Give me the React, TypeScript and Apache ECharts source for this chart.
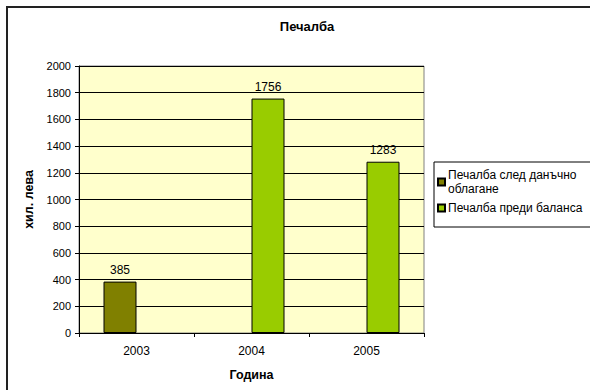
import React, { useEffect, useRef } from "react";
import * as echarts from "echarts";

const categories = ["2003", "2004", "2005"];
const seriesNames = ["Печалба след данъчно облагане", "Печалба преди баланса"];
const afterTax = [385, null, null];
const beforeBalance = [null, 1756, 1283];
const yTicks = { min: 0, max: 2000, interval: 200 };

const FONT = "'Liberation Sans', Arial, sans-serif";

export default function App() {
  const ref = useRef<HTMLDivElement>(null);
  useEffect(() => {
    if (!ref.current) return;
    const chart = echarts.init(ref.current, undefined, { renderer: "svg" });
    chart.setOption({
      animation: false,
      backgroundColor: "#ffffff",
      textStyle: { fontFamily: FONT },
      title: {
        text: "Печалба",
        left: 302,
        top: 15,
        textAlign: "center",
        textStyle: { fontSize: 13, fontWeight: "bold", color: "#000", fontFamily: FONT },
      },
      grid: {
        left: 79,
        top: 66,
        right: 166,
        bottom: 57,
        show: true,
        backgroundColor: "#FFFFCC",
        borderColor: "#808080",
        borderWidth: 1,
      },
      legend: {
        orient: "vertical",
        left: 434,
        top: 162,
        padding: [6, 40, 12, 3],
        itemWidth: 7,
        itemHeight: 7,
        itemGap: 5,
        backgroundColor: "#ffffff",
        borderColor: "#000",
        borderWidth: 1,
        icon: "rect",
        formatter: (name: string) =>
          name === seriesNames[0] ? "Печалба след данъчно\nоблагане" : name,
        textStyle: { fontSize: 12, color: "#000", fontFamily: FONT, lineHeight: 14, padding: [0, 0, 0, -2] },
        data: seriesNames,
      },
      xAxis: {
        type: "category",
        data: categories,
        name: "Година",
        nameLocation: "middle",
        nameGap: 35,
        nameTextStyle: { fontSize: 12.5, fontWeight: "bold", color: "#000", fontFamily: FONT },
        axisLine: { lineStyle: { color: "#000", width: 1 } },
        axisTick: { show: true, length: 4, lineStyle: { color: "#000" } },
        axisLabel: { fontSize: 12, color: "#000", margin: 12, fontFamily: FONT },
      },
      yAxis: {
        type: "value",
        min: yTicks.min,
        max: yTicks.max,
        interval: yTicks.interval,
        name: "хил. лева",
        nameLocation: "middle",
        nameGap: 44,
        nameTextStyle: { fontSize: 12.5, fontWeight: "bold", color: "#000", fontFamily: FONT },
        axisLine: { show: true, lineStyle: { color: "#000", width: 1 } },
        axisTick: { show: true, length: 4, lineStyle: { color: "#000" } },
        axisLabel: {
          fontSize: 11,
          color: "#000",
          margin: 8,
          fontFamily: FONT,
          formatter: (v: number) => String(v),
        },
        splitLine: { show: true, lineStyle: { color: "#000", width: 1 } },
      },
      series: [
        {
          name: seriesNames[0],
          type: "bar",
          data: afterTax,
          barWidth: 33,
          barGap: "0%",
          itemStyle: { color: "#808000", borderColor: "#000", borderWidth: 1 },
          label: { show: true, position: "top", distance: 6, fontSize: 12, color: "#000", fontFamily: FONT },
        },
        {
          name: seriesNames[1],
          type: "bar",
          data: beforeBalance,
          barWidth: 33,
          barGap: "0%",
          itemStyle: { color: "#99CC00", borderColor: "#000", borderWidth: 1 },
          label: { show: true, position: "top", distance: 6, fontSize: 12, color: "#000", fontFamily: FONT },
        },
      ],
      graphic: [
        {
          type: "rect",
          shape: { x: 7, y: 7, width: 620, height: 420 },
          style: { fill: "none", stroke: "#222", lineWidth: 2 },
          silent: true,
          z: 100,
        },
      ],
    });
    return () => chart.dispose();
  }, []);
  return (
    <div
      ref={ref}
      style={{ position: "fixed", left: 0, top: 0, width: 590, height: 390 }}
    />
  );
}
